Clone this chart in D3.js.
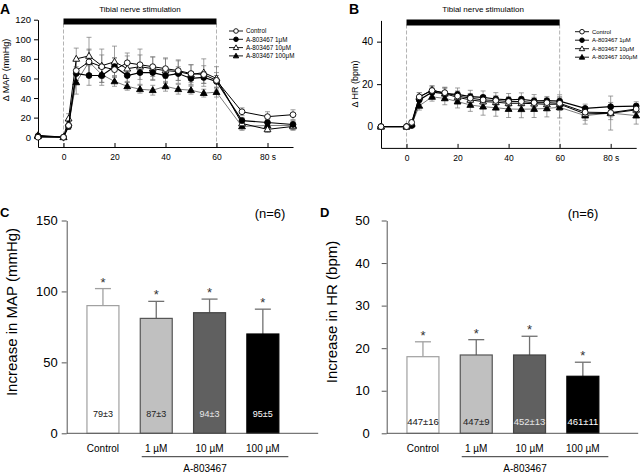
<!DOCTYPE html>
<html>
<head>
<meta charset="utf-8">
<script src="https://cdn.jsdelivr.net/npm/d3@7"></script>
<style>
  body { margin: 0; background: #fff; }
  svg { display: block; font-family: Arial, "Liberation Sans", sans-serif; }
</style>
</head>
<body>
<svg id="fig" width="640" height="473"></svg>
<script>
// time course (s)
var times = [-10, 0, 2, 5, 10, 15, 20, 25, 30, 35, 40, 45, 50, 55, 60, 70, 80, 90]
var xTicks = [0, 20, 40, 60, 80]

// delta MAP (mmHg), mean and SEM
var mapControl = [0, 0, 12, 68, 77, 72, 69, 76, 74, 72, 70, 68, 65, 64, 58, 26, 21, 23]
var map1 = [1, 0, 11, 65, 63, 63, 72, 63, 66, 66, 63, 65, 60, 61, 57, 17, 15, 13]
var map10 = [2, 0, 19, 80, 83, 73, 77, 70, 72, 70, 68, 67, 64, 66, 60, 14, 8, 11]
var map100 = [1, 0, 14, 56, 77, 64, 57, 52, 49, 48, 52, 49, 48, 45, 46, 11, 12, 12]
var mapControlSe = [1, 0, 4, 10, 13, 12, 12, 10, 10, 10, 10, 10, 9, 9, 8, 4, 5, 5]
var map1Se = [1, 0, 3, 7, 10, 10, 9, 7, 7, 7, 7, 7, 7, 6, 6, 3, 3, 3]
var map10Se = [2, 0, 5, 11, 19, 17, 16, 13, 18, 12, 13, 12, 10, 14, 12, 4, 3, 3]
var map100Se = [1, 0, 4, 12, 12, 8, 5, 4, 4, 5, 5, 5, 4, 4, 5, 4, 4, 5]

// delta HR (bpm), mean and SEM
var hrControl = [0, 0, 2, 14, 17, 16, 14.4, 13.4, 12.6, 12.3, 11.8, 11.8, 11.3, 11.3, 11, 6.8, 6.6, 8.3]
var hr1 = [0, 0, 0.5, 12.6, 16.2, 15.5, 15.2, 14.1, 13.8, 13, 12.6, 12.9, 12.1, 12.2, 12, 8.6, 9.4, 9.7]
var hr10 = [0, 0, 1.5, 14, 17.3, 15.5, 13.8, 12.6, 11.8, 11.5, 11, 11, 10.8, 10.5, 10.6, 6, 6.3, 7.9]
var hr100 = [0, 0, 1, 9.8, 14, 13.3, 11.8, 10.2, 9.4, 8.9, 8.3, 8.2, 8.3, 8.6, 9.1, 5.2, 6.4, 5.2]
var hrControlSe = [0.3, 0, 1, 2, 2, 2, 2, 2, 2, 2, 2, 2, 2, 2, 2, 2, 2, 2]
var hr1Se = [0.3, 0, 1, 2, 2, 3, 3, 3, 3, 3, 3, 3, 3, 2, 3, 2, 2, 2]
var hr10Se = [0.3, 0, 1, 2, 2, 3, 3, 3, 3, 3, 3, 3, 3, 3, 3, 3, 3, 3]
var hr100Se = [0.3, 0, 1, 2, 2, 3, 3, 3, 4, 4, 4, 4, 4, 4, 5, 4, 8, 4]

var legendNames = ['Control', 'A-803467 1\u03bcM', 'A-803467 10\u03bcM', 'A-803467 100\u03bcM']

// summary bars
var groups = ['Control', '1 \u00b5M', '10 \u00b5M', '100 \u00b5M']
var mapMean = [90, 81, 85, 70]
var mapErr = [12, 12, 9.6, 17.5]
var mapBase = ['79\u00b13', '87\u00b13', '94\u00b13', '95\u00b15']
var hrMean = [18, 18.4, 18.4, 13.4]
var hrErr = [3.5, 3.6, 4.4, 3.3]
var hrBase = ['447\u00b116', '447\u00b19', '452\u00b113', '461\u00b111']

var svg = d3.select('#fig')

// marker styles: open circle, filled circle, open triangle, filled triangle
var styles = [
    { shape: 'circle', fill: '#fff', line: '#000', lw: 1 },
    { shape: 'circle', fill: '#000', line: '#000', lw: 1.2 },
    { shape: 'triangle', fill: '#fff', line: '#000', lw: 1 },
    { shape: 'triangle', fill: '#000', line: '#444', lw: 0.7 }
]

function marker(g, s, cx, cy, size) {
    if (s.shape == 'circle') {
        g.append('circle')
            .attr('cx', cx).attr('cy', cy).attr('r', size)
            .attr('fill', s.fill).attr('stroke', '#000').attr('stroke-width', 0.9)
    } else {
        g.append('path')
            .attr('d', d3.symbol().type(d3.symbolTriangle).size(size * size * 2.4)())
            .attr('transform', 'translate(' + cx + ',' + (cy + 0.4) + ')')
            .attr('fill', s.fill).attr('stroke', '#000').attr('stroke-width', 0.9)
    }
}

function timeCourse(o) {
    var x = d3.scaleLinear().domain([-10, 90]).range(o.xr)
    var y = d3.scaleLinear().domain(o.yd).range(o.yr)
    var g = svg.append('g')

    // stimulation period
    ;[0, 60].forEach(function (t) {
        g.append('line')
            .attr('x1', x(t)).attr('x2', x(t))
            .attr('y1', o.barY + 5).attr('y2', o.yr[0])
            .attr('stroke', '#aaa').attr('stroke-width', 0.9)
            .attr('stroke-dasharray', '4,2')
    })
    g.append('rect')
        .attr('x', x(0)).attr('y', o.barY)
        .attr('width', x(60) - x(0)).attr('height', 6)
        .attr('fill', '#000')
    g.append('text')
        .attr('x', (x(0) + x(60)) / 2).attr('y', 12)
        .attr('text-anchor', 'middle').attr('font-size', '8px')
        .text('Tibial nerve stimulation')

    // axes
    var yAxis = d3.axisLeft(y).tickValues(o.yTicks).tickSizeInner(4).tickSizeOuter(0).tickPadding(o.yPad)
    var gy = g.append('g').attr('transform', 'translate(' + o.xr[0] + ',0)').call(yAxis)
    gy.selectAll('text').attr('font-size', o.yFont).attr('fill', '#000')
    var xAxis = d3.axisBottom(x).tickValues(xTicks).tickSizeInner(-4).tickSizeOuter(0).tickPadding(7)
        .tickFormat(function (d) { return d == 80 ? '80 s' : d })
    var gx = g.append('g').attr('transform', 'translate(0,' + o.yr[0] + ')').call(xAxis)
    gx.selectAll('text').attr('font-size', '8.5px').attr('fill', '#000')
    g.selectAll('.domain, .tick line').attr('stroke', '#000')

    g.append('text')
        .attr('transform', 'translate(' + o.yLabX + ',' + o.yLabY + ') rotate(-90)')
        .attr('text-anchor', 'middle').attr('font-size', '9px')
        .text(o.yLabel)

    g.append('text')
        .attr('x', o.letterX).attr('y', 13.5)
        .attr('font-size', '14px').attr('font-weight', 'bold')
        .text(o.letter)

    // error bars first
    o.series.forEach(function (s) {
        s.values.forEach(function (v, i) {
            var e = s.se[i]
            if (e <= 0) return
            var cx = x(times[i])
            g.append('line')
                .attr('x1', cx).attr('x2', cx)
                .attr('y1', y(v - e)).attr('y2', y(v + e))
                .attr('stroke', '#777').attr('stroke-width', 0.7)
            ;[v - e, v + e].forEach(function (w) {
                g.append('line')
                    .attr('x1', cx - 2.5).attr('x2', cx + 2.5)
                    .attr('y1', y(w)).attr('y2', y(w))
                    .attr('stroke', '#777').attr('stroke-width', 0.7)
            })
        })
    })

    var line = d3.line()
        .x(function (d, i) { return x(times[i]) })
        .y(function (d) { return y(d) })

    // draw lowest series first so control sits on top
    o.series.slice().reverse().forEach(function (s) {
        g.append('path')
            .datum(s.values)
            .attr('d', line)
            .attr('fill', 'none')
            .attr('stroke', s.style.line)
            .attr('stroke-width', s.style.lw)
        s.values.forEach(function (v, i) {
            marker(g, s.style, x(times[i]), y(v), 2.9)
        })
    })

    // legend
    o.series.forEach(function (s, i) {
        var ly = o.legY + i * o.legStep
        g.append('line')
            .attr('x1', o.legX - 7).attr('x2', o.legX + 7)
            .attr('y1', ly).attr('y2', ly)
            .attr('stroke', '#000').attr('stroke-width', 0.9)
        marker(g, s.style, o.legX, ly, 2.3)
        g.append('text')
            .attr('x', o.legX + 10).attr('y', ly + 2.2)
            .attr('font-size', o.legFont)
            .text(s.name)
    })
}

function makeSeries(vals, ses) {
    return vals.map(function (v, i) {
        return { name: legendNames[i], values: v, se: ses[i], style: styles[i] }
    })
}

timeCourse({
    xr: [38, 293], yd: [-10, 120], yr: [147, 19.7],
    yTicks: [0, 20, 40, 60, 80, 100, 120], yPad: 3, yFont: '9.5px',
    barY: 18.5, yLabel: '\u0394 MAP (mmHg)', yLabX: 8.5, yLabY: 70,
    letter: 'A', letterX: 0,
    legX: 236, legY: 31, legStep: 8.3, legFont: '6.3px',
    series: makeSeries([mapControl, map1, map10, map100], [mapControlSe, map1Se, map10Se, map100Se])
})

timeCourse({
    xr: [381, 636.2], yd: [-10, 50], yr: [147.9, 20.4],
    yTicks: [0, 20, 40], yPad: 4, yFont: '10px',
    barY: 19.5, yLabel: '\u0394 HR (bpm)', yLabX: 358, yLabY: 84,
    letter: 'B', letterX: 349,
    legX: 582, legY: 31.7, legStep: 8.5, legFont: '5.9px',
    series: makeSeries([hrControl, hr1, hr10, hr100], [hrControlSe, hr1Se, hr10Se, hr100Se])
})

// summary bar panels
var barFill = ['#ffffff', '#c0c0c0', '#606060', '#000000']
var barStroke = ['#a0a0a0', '#555555', '#444444', '#000000']
var errColor = ['#a0a0a0', '#707070', '#707070', '#707070']
var baseColor = ['#111', '#222', '#e8e8e8', '#ffffff']

function barPanel(o) {
    var x = d3.scaleBand()
        .domain(groups)
        .range([o.x0, o.x0 + 232.4])
        .paddingInner(0.4)
        .paddingOuter(0.38)
    var y = d3.scaleLinear().domain([0, o.yMax]).range([433.3, 220.5])
    var g = svg.append('g')
    var bw = x.bandwidth()

    // error bars (upward)
    o.mean.forEach(function (m, i) {
        var cx = x(groups[i]) + bw / 2
        g.append('line')
            .attr('x1', cx).attr('x2', cx)
            .attr('y1', y(m)).attr('y2', y(m + o.err[i]))
            .attr('stroke', errColor[i]).attr('stroke-width', 1.3)
        g.append('line')
            .attr('x1', cx - 8).attr('x2', cx + 8)
            .attr('y1', y(m + o.err[i])).attr('y2', y(m + o.err[i]))
            .attr('stroke', errColor[i]).attr('stroke-width', 1.3)
        g.append('text')
            .attr('x', cx).attr('y', y(m + o.err[i]) - 2)
            .attr('text-anchor', 'middle').attr('font-size', '13px')
            .attr('fill', '#333')
            .text('*')
    })

    g.selectAll('.bar')
        .data(o.mean)
        .enter()
        .append('rect')
        .attr('x', function (d, i) { return x(groups[i]) })
        .attr('y', function (d) { return y(d) })
        .attr('width', bw)
        .attr('height', function (d) { return y(0) - y(d) })
        .attr('fill', function (d, i) { return barFill[i] })
        .attr('stroke', function (d, i) { return barStroke[i] })
        .attr('stroke-width', 1.2)

    g.selectAll('.base')
        .data(o.base)
        .enter()
        .append('text')
        .attr('x', function (d, i) { return x(groups[i]) + bw / 2 })
        .attr('y', o.baseY)
        .attr('text-anchor', 'middle')
        .attr('font-size', o.baseFont)
        .attr('fill', function (d, i) { return baseColor[i] })
        .text(function (d) { return d })

    // axes
    var yAxis = d3.axisLeft(y).tickValues(o.yTicks).tickSizeInner(5).tickSizeOuter(0).tickPadding(o.yPad)
    var gy = g.append('g').attr('transform', 'translate(' + o.x0 + ',0)').call(yAxis)
    gy.selectAll('text').attr('font-size', '13px').attr('fill', '#000')
    gy.selectAll('.domain, .tick line').attr('stroke', '#555')
    g.append('line')
        .attr('x1', o.x0).attr('x2', o.x0 + 251.5)
        .attr('y1', y(0)).attr('y2', y(0))
        .attr('stroke', '#555')

    g.selectAll('.cat')
        .data(groups)
        .enter()
        .append('text')
        .attr('x', function (d) { return x(d) + bw / 2 })
        .attr('y', 452)
        .attr('text-anchor', 'middle')
        .attr('font-size', '10px')
        .text(function (d) { return d })

    var c1 = x(groups[1]) + bw / 2, c3 = x(groups[3]) + bw / 2
    g.append('line')
        .attr('x1', c1 - 14.5).attr('x2', c3 + 25.5)
        .attr('y1', 456.7).attr('y2', 456.7)
        .attr('stroke', '#333').attr('stroke-width', 1)
    g.append('text')
        .attr('x', (c1 + c3) / 2 - 4.5).attr('y', 472)
        .attr('text-anchor', 'middle').attr('font-size', '10px')
        .text('A-803467')

    g.append('text')
        .attr('x', o.nX).attr('y', 218)
        .attr('text-anchor', 'middle').attr('font-size', '13px')
        .text('(n=6)')

    g.append('text')
        .attr('transform', 'translate(' + o.yLabX + ',312) rotate(-90)')
        .attr('text-anchor', 'middle').attr('font-size', '15px')
        .text(o.yLabel)

    g.append('text')
        .attr('x', o.letterX).attr('y', 217)
        .attr('font-size', '13px').attr('font-weight', 'bold')
        .text(o.letter)
}

barPanel({
    x0: 66.7, yMax: 150, yTicks: [0, 50, 100, 150], yPad: 4,
    mean: mapMean, err: mapErr, base: mapBase, baseY: 416.5, baseFont: '9px',
    nX: 270, yLabX: 16.5, yLabel: 'Increase in MAP (mmHg)', letter: 'C', letterX: 0
})

barPanel({
    x0: 386.7, yMax: 50, yTicks: [0, 10, 20, 30, 40, 50], yPad: 12,
    mean: hrMean, err: hrErr, base: hrBase, baseY: 425, baseFont: '9.5px',
    nX: 583, yLabX: 336.5, yLabel: 'Increase in HR (bpm)', letter: 'D', letterX: 320
})
</script>
</body>
</html>
